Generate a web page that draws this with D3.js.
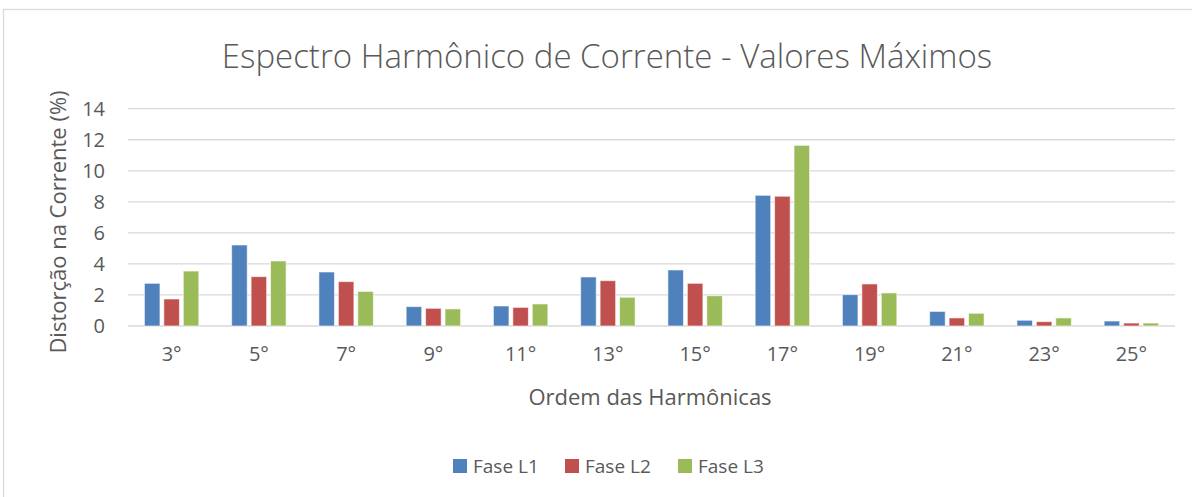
<!DOCTYPE html>
<html>
<head>
<meta charset="utf-8">
<script src="https://cdn.jsdelivr.net/npm/d3@7"></script>
<style>
  body { margin: 0; background: #fff; }
  text { font-family: "Open Sans", "Noto Sans", sans-serif; fill: #595959; }
</style>
</head>
<body>
<div id="chart"></div>
<script>

// harmonic orders on the x axis
var orders = ["3°", "5°", "7°", "9°", "11°", "13°", "15°", "17°", "19°", "21°", "23°", "25°"];
// values (% distortion)
var faseL1 = [2.75, 5.22, 3.48, 1.25, 1.29, 3.16, 3.61, 8.42, 2.02, 0.94, 0.37, 0.32];
var faseL2 = [1.74, 3.18, 2.86, 1.14, 1.20, 2.92, 2.75, 8.36, 2.71, 0.52, 0.28, 0.19];
var faseL3 = [3.54, 4.19, 2.23, 1.10, 1.42, 1.85, 1.95, 11.64, 2.13, 0.82, 0.52, 0.19];
var seriesNames = ["Fase L1", "Fase L2", "Fase L3"];
var yTicks = [0, 2, 4, 6, 8, 10, 12, 14];

var colors = ["#4F81BD", "#C0504D", "#9BBB59"];

var width = 1192, height = 497;
var margin = {top: 108.7, right: 17, bottom: 171, left: 128};
var innerW = width - margin.left - margin.right;
var innerH = height - margin.top - margin.bottom;

var svg = d3.select("#chart").append("svg")
  .attr("width", width)
  .attr("height", height);

// chart frame
svg.append("rect")
  .attr("x", 3.5).attr("y", 9.5)
  .attr("width", 1200).attr("height", 500)
  .attr("fill", "#fff")
  .attr("stroke", "#D9D9D9")
  .attr("stroke-width", 1.3);

var g = svg.append("g")
  .attr("transform", "translate(" + margin.left + "," + margin.top + ")");

var y = d3.scaleLinear().domain([0, 14]).range([innerH, 0]);

var x0 = d3.scaleBand()
  .domain(orders)
  .range([0, innerW])
  .paddingInner(0.376)
  .paddingOuter(0.188);

var x1 = d3.scaleBand()
  .domain(seriesNames)
  .range([0, x0.bandwidth()])
  .paddingInner(0.2);

// gridlines
g.append("g")
  .selectAll("line")
  .data(yTicks)
  .enter().append("line")
  .attr("x1", 0).attr("x2", innerW)
  .attr("y1", d => y(d)).attr("y2", d => y(d))
  .attr("stroke", "#D9D9D9")
  .attr("stroke-width", 1.3);

// y axis labels
var yAxis = g.append("g")
  .call(d3.axisLeft(y).tickValues(yTicks).tickSize(0).tickPadding(23));
yAxis.select(".domain").remove();
yAxis.selectAll("text")
  .attr("fill", "#595959")
  .style("font-size", "20px");

// x axis labels
var xAxis = g.append("g")
  .attr("transform", "translate(0," + innerH + ")")
  .call(d3.axisBottom(x0).tickSize(0).tickPadding(21));
xAxis.select(".domain").remove();
xAxis.selectAll("text")
  .attr("fill", "#595959")
  .style("font-size", "20px");

// bars
var data = orders.map(function(o, i) {
  return {order: o, vals: [faseL1[i], faseL2[i], faseL3[i]]};
});

var groups = g.append("g")
  .selectAll("g")
  .data(data)
  .enter().append("g")
  .attr("transform", d => "translate(" + x0(d.order) + ",0)");

groups.selectAll("rect")
  .data(d => d.vals.map((v, k) => ({key: seriesNames[k], v: v, k: k})))
  .enter().append("rect")
  .attr("x", d => x1(d.key))
  .attr("y", d => y(d.v))
  .attr("width", x1.bandwidth())
  .attr("height", d => y(0) - y(d.v))
  .attr("fill", d => colors[d.k])
  .attr("stroke", "#fff")
  .attr("stroke-opacity", 0.6)
  .attr("stroke-width", 1);

// title
svg.append("text")
  .attr("x", 607).attr("y", 68)
  .attr("text-anchor", "middle")
  .style("font-size", "33px")
  .style("font-weight", 300)
  .text("Espectro Harmônico de Corrente - Valores Máximos");

// axis titles
svg.append("text")
  .attr("x", 650).attr("y", 405)
  .attr("text-anchor", "middle")
  .style("font-size", "22px")
  .text("Ordem das Harmônicas");

svg.append("text")
  .attr("transform", "translate(66,222) rotate(-90)")
  .attr("text-anchor", "middle")
  .style("font-size", "22px")
  .text("Distorção na Corrente (%)");

// legend
var legendX = [453, 565, 678];
var legend = svg.selectAll(".legend")
  .data(seriesNames)
  .enter().append("g")
  .attr("class", "legend")
  .attr("transform", (d, i) => "translate(" + legendX[i] + ",459)");

legend.append("rect")
  .attr("width", 14).attr("height", 14)
  .attr("fill", (d, i) => colors[i]);

legend.append("text")
  .attr("x", 20).attr("y", 14)
  .style("font-size", "19px")
  .text(d => d);

</script>
</body>
</html>
